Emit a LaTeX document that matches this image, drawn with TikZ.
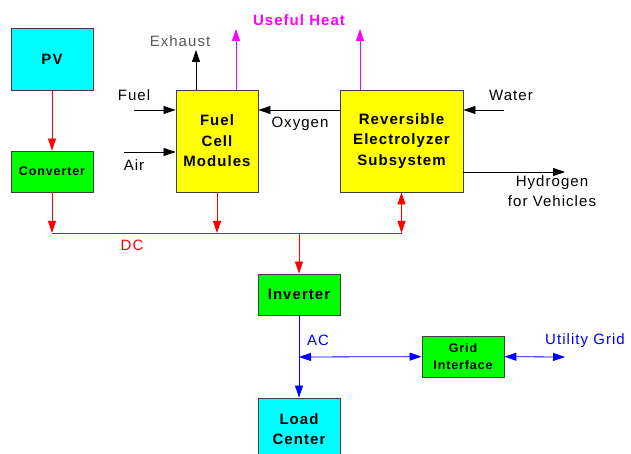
\documentclass[tikz,border=0pt]{standalone}
\usepackage{fontspec}
\setmainfont{Liberation Sans}[LetterSpace=7]
\usepackage{tikz}
\usetikzlibrary{arrows.meta}

\definecolor{pvcyan}{RGB}{0,255,255}
\definecolor{convgreen}{RGB}{0,255,0}
\definecolor{fcyellow}{RGB}{255,255,0}
\definecolor{heatpink}{RGB}{255,0,255}
\definecolor{boxedge}{RGB}{64,64,64}

\begin{document}
\begin{tikzpicture}[
						x=1pt, y=-1pt,
						>={Triangle[length=12pt,width=8pt]},
						line width=0.8pt,
						box/.style={draw=boxedge, line width=0.9pt, inner sep=0pt, align=center,
							minimum width=82pt, font=\bfseries\fontsize{15}{20.5}\selectfont},
						smallbox/.style={box, minimum height=41pt, font=\bfseries\fontsize{12.5}{17}\selectfont},
						lbl/.style={font=\fontsize{15}{20}\selectfont, inner sep=0pt, align=center},
						dcline/.style={draw=red},
						acline/.style={draw=blue},
						heat/.style={draw=heatpink}
						]
						
						\useasboundingbox (0,0) rectangle (631,454);
						
						% Boxes
						\node[box, fill=pvcyan, minimum height=62pt] (pv) at (52,59) {PV};
						\node[smallbox, fill=convgreen] (conv) at (52,171.5) {Converter};
						\node[box, fill=fcyellow, minimum height=102pt] (fc) at (217,141) {Fuel\\Cell\\Modules};
						\node[box, fill=fcyellow, minimum height=102pt, minimum width=123pt] (elec) at (401.5,141) {Reversible\\Electrolyzer\\Subsystem};
						\node[box, fill=convgreen, minimum height=41pt] (inv) at (299,294.5) {Inverter};
						\node[smallbox, fill=convgreen] (gridif) at (463,356.5) {Grid\\Interface};
						\node[box, fill=pvcyan, minimum height=62pt] (load) at (299,429) {Load\\Center};
						
						% Free ends
						\coordinate (busL) at (52,233);
						\coordinate (busR) at (401.5,233);
						\coordinate (fuelin) at (134,110);
						\coordinate (airin) at (124,152);
						\coordinate (waterin) at (504,110);
						\coordinate (h2out) at (565,172);
						\coordinate (exh) at (196,50);
						\coordinate (heatA) at (236,29);
						\coordinate (heatB) at (360,29);
						\coordinate (acjoin) at (299,357);
						\coordinate (utility) at (565,357);
						
						% DC side
						\draw[dcline, ->] (pv) -- (conv);
						\draw[dcline, ->] (conv) -- (busL);
						\draw[dcline, ->] (fc) -- (fc.south |- busL);
						\draw[dcline, <->] (elec) -- (busR);
						\draw[dcline] (busL) -- (busR);
						\draw[dcline, ->] (inv.north |- busL) -- (inv);
						\node[lbl, text=red] (dc) at (132,245) {DC};
						
						% Gas and water
						\draw[->] (fuelin) -- (fuelin -| fc.west);
						\draw[->] (airin) -- (airin -| fc.west);
						\draw[->] (fuelin -| elec.west) -- (fuelin -| fc.east);
						\draw[->] (waterin) -- (waterin -| elec.east);
						\draw[->] (h2out -| elec.east) -- (h2out);
						\draw[->] (exh |- fc.north) -- (exh);
						\node[lbl] (fuel) at (134,95) {Fuel};
						\node[lbl] (air) at (134,165) {Air};
						\node[lbl] (oxy) at (300,124) {Oxygen};
						\node[lbl] (water) at (511,95) {Water};
						\node[lbl] (h2) at (552,191) {Hydrogen\\for Vehicles};
						\node[lbl, text=black!65] (exhaust) at (180,41) {Exhaust};
						
						% Heat
						\draw[heat, ->] (heatA |- fc.north) -- (heatA);
						\draw[heat, ->] (heatB |- elec.north) -- (heatB);
						\node[lbl, text=heatpink, font=\bfseries\fontsize{15}{20}\selectfont] (useheat) at (299,20) {Useful Heat};
						
						% AC side
						\draw[acline, ->] (inv) -- (load);
						\draw[acline, <->] (acjoin) -- (gridif);
						\draw[acline, <->] (gridif) -- (utility);
						\node[lbl, text=blue] (ac) at (318,340) {AC};
						\node[lbl, text=blue] (ugrid) at (585,341) {Utility Grid};
						
					\end{tikzpicture}
\end{document}
